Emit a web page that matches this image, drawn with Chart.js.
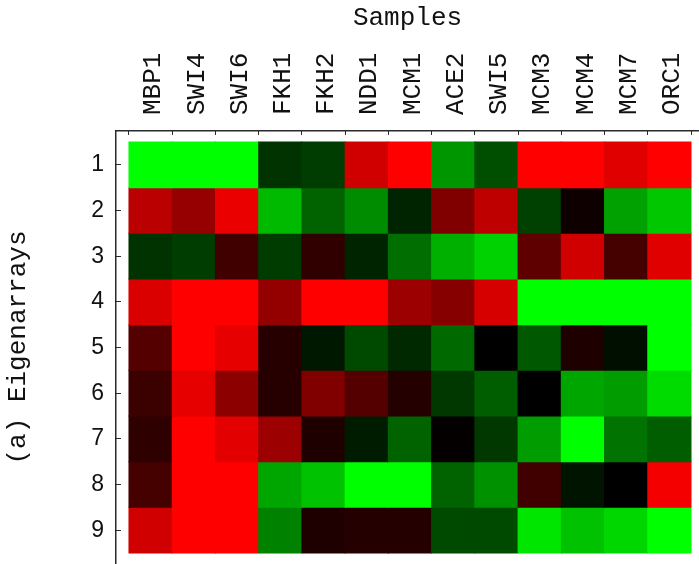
<!DOCTYPE html>
<html>
<head>
<meta charset="utf-8">
<script src="https://cdn.jsdelivr.net/npm/chart.js@4/dist/chart.umd.min.js"></script>
<style>
  html, body { margin: 0; padding: 0; background: #ffffff; }
  canvas { display: block; }
</style>
</head>
<body>
<canvas id="heatmap" width="699" height="564"></canvas>
<script>
// Gene / sample names along the top, eigenarray numbers down the side
const samples = ['MBP1', 'SWI4', 'SWI6', 'FKH1', 'FKH2', 'NDD1', 'MCM1', 'ACE2', 'SWI5', 'MCM3', 'MCM4', 'MCM7', 'ORC1'];
const eigenarrayLabels = ['1', '2', '3', '4', '5', '6', '7', '8', '9'];

// Signed levels per eigenarray (positive = red, negative = green, 0 = black)
const eigenarray1 = [-1.00, -1.00, -1.00, -0.20, -0.24, 0.82, 1.00, -0.59, -0.31, 1.00, 1.00, 0.88, 1.00];
const eigenarray2 = [0.73, 0.59, 0.92, -0.73, -0.39, -0.55, -0.14, 0.50, 0.75, -0.25, 0.06, -0.63, -0.78];
const eigenarray3 = [-0.20, -0.24, 0.25, -0.23, 0.19, -0.14, -0.43, -0.69, -0.82, 0.37, 0.82, 0.27, 0.88];
const eigenarray4 = [0.86, 1.00, 1.00, 0.58, 1.00, 1.00, 0.61, 0.53, 0.84, -1.00, -1.00, -1.00, -1.00];
const eigenarray5 = [0.33, 1.00, 0.90, 0.15, -0.09, -0.29, -0.16, -0.41, 0.00, -0.35, 0.12, -0.06, -1.00];
const eigenarray6 = [0.23, 0.90, 0.55, 0.15, 0.50, 0.33, 0.14, -0.22, -0.37, 0.00, -0.65, -0.61, -0.86];
const eigenarray7 = [0.18, 1.00, 0.89, 0.61, 0.12, -0.11, -0.39, 0.02, -0.22, -0.61, -1.00, -0.45, -0.37];
const eigenarray8 = [0.27, 1.00, 1.00, -0.65, -0.76, -1.00, -1.00, -0.39, -0.57, 0.25, -0.08, 0.00, 0.96];
const eigenarray9 = [0.82, 1.00, 1.00, -0.51, 0.12, 0.14, 0.14, -0.29, -0.29, -0.90, -0.76, -0.84, -1.00];

const eigenarrays = [eigenarray1, eigenarray2, eigenarray3, eigenarray4, eigenarray5,
                     eigenarray6, eigenarray7, eigenarray8, eigenarray9];

// red–black–green colour scale
function levelColor(v) {
  const r = v > 0 ? Math.round(255 * Math.min(v, 1)) : 0;
  const g = v < 0 ? Math.round(255 * Math.min(-v, 1)) : 0;
  return `rgb(${r},${g},0)`;
}

// each eigenarray is one row of floating bars spanning [row - 0.5, row + 0.5]
const datasets = eigenarrays.map((values, r) => ({
  label: eigenarrayLabels[r],
  data: values.map((v, c) => ({ x: c, y: [r + 0.5, r + 1.5] })),
  backgroundColor: values.map(levelColor),
  borderWidth: 0,
  inflateAmount: 0.5,
  grouped: false,
  barPercentage: 1,
  categoryPercentage: 1
}));

const monoFont = { family: '"Liberation Mono", "DejaVu Sans Mono", monospace', size: 26, lineHeight: 1.2 };
const sansFont = { family: '"Liberation Sans", Arial, sans-serif', size: 23 };
const axisColor = '#2a2a2a';

// keep the plot frame flush with the canvas edges on the right and bottom
function noScalePadding(scale) {
  scale.paddingLeft = 0;
  scale.paddingRight = 0;
  scale.paddingTop = 0;
  scale.paddingBottom = 0;
}

new Chart(document.getElementById('heatmap'), {
  type: 'bar',
  data: { datasets },
  options: {
    responsive: false,
    animation: false,
    events: [],
    layout: { padding: 0 },
    plugins: { legend: { display: false }, tooltip: { enabled: false } },
    scales: {
      x: {
        type: 'linear',
        position: 'top',
        offset: false,
        min: -0.8,
        max: 12.685,
        bounds: 'data',
        afterBuildTicks: (scale) => { scale.ticks = samples.map((_, i) => ({ value: i })); },
        afterFit: (scale) => { scale.height = 131; noScalePadding(scale); },
        ticks: {
          autoSkip: false,
          minRotation: 90,
          maxRotation: 90,
          padding: 20,
          labelOffset: 34,
          color: '#111',
          font: monoFont,
          callback: (v) => samples[v]
        },
        grid: { drawOnChartArea: false, drawTicks: true, tickLength: -4, color: axisColor, lineWidth: 1 },
        border: { display: true, color: axisColor, width: 1.5 },
        title: { display: true, text: 'Samples', color: '#111', font: monoFont, padding: { top: 3, bottom: 0 } }
      },
      y: {
        type: 'linear',
        position: 'left',
        reverse: true,
        offset: false,
        min: 0.259,
        max: 9.741,
        bounds: 'data',
        afterBuildTicks: (scale) => { scale.ticks = eigenarrayLabels.map((_, i) => ({ value: i + 1 })); },
        afterFit: (scale) => { scale.width = 116; noScalePadding(scale); },
        ticks: {
          padding: 17,
          color: '#111',
          font: sansFont,
          callback: (v) => eigenarrayLabels[v - 1]
        },
        grid: { drawOnChartArea: false, drawTicks: true, tickLength: -5, color: axisColor, lineWidth: 1 },
        border: { display: true, color: axisColor, width: 1.5 },
        title: { display: true, text: '(a) Eigenarrays', color: '#111', font: monoFont, padding: { top: 3, bottom: 0 } }
      }
    }
  }
});
</script>
</body>
</html>
